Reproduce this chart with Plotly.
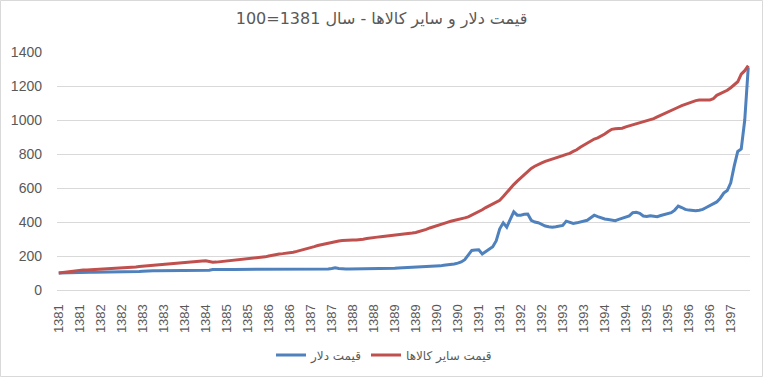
import plotly.graph_objects as go

# Monthly index from 1381/01 to 1397/06 (base 1381 = 100)
years = list(range(1381, 1398))

dollar = [
    100, 100, 101, 101, 102, 102, 103, 103, 104, 104, 105, 105,   # 1381
    105, 106, 106, 106, 107, 107, 107, 108, 108, 108, 108, 109,   # 1382
    110, 112, 113, 113, 113, 113, 113, 113, 113, 113, 114, 114,   # 1383
    114, 114, 114, 114, 114, 115, 115, 116, 120, 121, 121, 121,   # 1384
    121, 121, 121, 121, 121, 121, 121, 121, 121, 121, 121, 121,   # 1385
    120, 120, 120, 120, 120, 120, 120, 120, 120, 120, 120, 120,   # 1386
    120, 120, 120, 120, 121, 124, 127, 131, 127, 124, 124, 124,   # 1387
    124, 124, 124, 124, 124, 124, 125, 125, 125, 125, 126, 127,   # 1388
    128, 130, 131, 132, 133, 133, 133, 134, 134, 135, 136, 138,   # 1389
    140, 142, 145, 147, 150, 153, 158, 165, 178, 205, 233, 235,   # 1390
    236, 212, 225, 240, 255, 290, 360, 395, 370, 415, 460, 440,   # 1391
    440, 445, 447, 410, 400, 396, 385, 376, 372, 369, 372, 375,   # 1392
    380, 405, 400, 392, 395, 400, 405, 410, 425, 440, 432, 424,   # 1393
    418, 415, 412, 408, 415, 422, 428, 436, 455, 457, 451, 435,   # 1394
    433, 437, 434, 431, 438, 445, 450, 455, 470, 494, 485, 474,   # 1395
    470, 467, 466, 469, 474, 485, 496, 507, 518, 540, 570, 585,   # 1396
    630, 730, 815, 830, 1000, 1310,                               # 1397
]

goods = [
    100, 103, 106, 109, 111, 113, 115, 117, 118, 119, 120, 121,   # 1381
    122, 124, 125, 127, 129, 131, 132, 133, 134, 135, 136, 138,   # 1382
    140, 142, 145, 147, 149, 151, 153, 155, 157, 158, 159, 161,   # 1383
    162, 164, 165, 167, 169, 171, 172, 168, 163, 164, 166, 168,   # 1384
    170, 172, 175, 178, 180, 182, 185, 186, 188, 190, 192, 195,   # 1385
    200, 205, 210, 212, 214, 216, 218, 222, 227, 232, 237, 242,   # 1386
    248, 255, 262, 267, 272, 277, 282, 285, 288, 291, 293, 294,   # 1387
    294, 294, 295, 299, 303, 307, 309, 311, 313, 315, 317, 319,   # 1388
    321, 323, 326, 329, 332, 335, 338, 343, 350, 357, 365, 372,   # 1389
    380, 388, 393, 398, 404, 408, 412, 418, 424, 430, 440, 451,   # 1390
    460, 472, 485, 496, 505, 515, 528, 550, 575, 598, 620, 640,   # 1391
    660, 680, 700, 715, 728, 740, 748, 757, 763, 768, 774, 780,   # 1392
    790, 798, 804, 815, 825, 840, 852, 865, 878, 888, 895, 905,   # 1393
    918, 932, 945, 948, 950, 952, 960, 966, 970, 976, 982, 988,   # 1394
    995, 1000, 1008, 1018, 1027, 1035, 1045, 1055, 1065, 1075, 1085, 1093,  # 1395
    1100, 1108, 1114, 1117, 1117, 1117, 1117, 1125, 1145, 1155, 1165, 1175,  # 1396
    1190, 1205, 1225, 1270, 1290, 1320,                                      # 1397
]

# category labels: the year of each month
months = [f"{y}" for y in years for _ in range(12)][:len(dollar)]
x_idx = list(range(len(dollar)))
tick_vals = x_idx[::6]
tick_text = [months[i] for i in tick_vals]

name_dollar = "قیمت دلار"
name_goods = "قیمت سایر کالاها"
title_text = "قیمت دلار و سایر کالاها - سال 1381=100"

TXT = "#595959"
GRID = "#D9D9D9"
FONT = "Liberation Sans, DejaVu Sans, sans-serif"

fig = go.Figure()
fig.add_trace(go.Scatter(x=x_idx, y=dollar, mode="lines", name=name_dollar,
                         line=dict(color="#4F81BD", width=3), legendwidth=50))
fig.add_trace(go.Scatter(x=x_idx, y=goods, mode="lines", name=name_goods,
                         line=dict(color="#C0504D", width=3)))

W, H = 763, 377
ml, mr, mt, mb = 57, 13, 52, 87
pw, ph = W - ml - mr, H - mt - mb

fig.update_layout(
    width=W, height=H,
    margin=dict(l=ml, r=mr, t=mt, b=mb, pad=0, autoexpand=False),
    paper_bgcolor="white", plot_bgcolor="white",
    font=dict(family=FONT, color=TXT, size=13),
    title=dict(text=title_text, x=0.5, xanchor="center", y=1 - 18 / H, yanchor="middle",
               font=dict(family="DejaVu Sans, sans-serif", size=16, color=TXT)),
    showlegend=True,
    legend=dict(orientation="h", x=(271 - ml) / pw, xanchor="left",
                y=-(355 - 290) / ph, yanchor="middle",
                font=dict(family="DejaVu Sans, sans-serif", size=12, color=TXT),
                itemwidth=30, bgcolor="rgba(0,0,0,0)"),
    xaxis=dict(range=[-0.5, len(dollar) - 0.5], tickmode="array", tickvals=tick_vals,
               ticktext=tick_text, tickangle=-90, showgrid=False, zeroline=False,
               showline=True, linecolor=GRID, linewidth=1, ticks="", automargin=False,
               tickfont=dict(size=13, color=TXT), ticklabelstandoff=8),
    yaxis=dict(range=[0, 1400], tickmode="array", tickvals=list(range(0, 1401, 200)),
               showgrid=True, gridcolor=GRID, gridwidth=1, zeroline=False,
               showline=False, ticks="", tickfont=dict(size=14, color=TXT),
               ticklabelstandoff=14, automargin=False),
    shapes=[dict(type="rect", xref="paper", yref="paper",
                 x0=(-ml + 0.5) / pw, x1=1 + (mr - 0.5) / pw,
                 y0=(-mb + 0.5) / ph, y1=1 + (mt - 0.5) / ph,
                 line=dict(color=GRID, width=1), fillcolor="rgba(0,0,0,0)", layer="below")],
)

fig.write_html("out.html", config={"displayModeBar": False},
               post_script="document.body.style.margin='0';document.body.style.padding='0';")
